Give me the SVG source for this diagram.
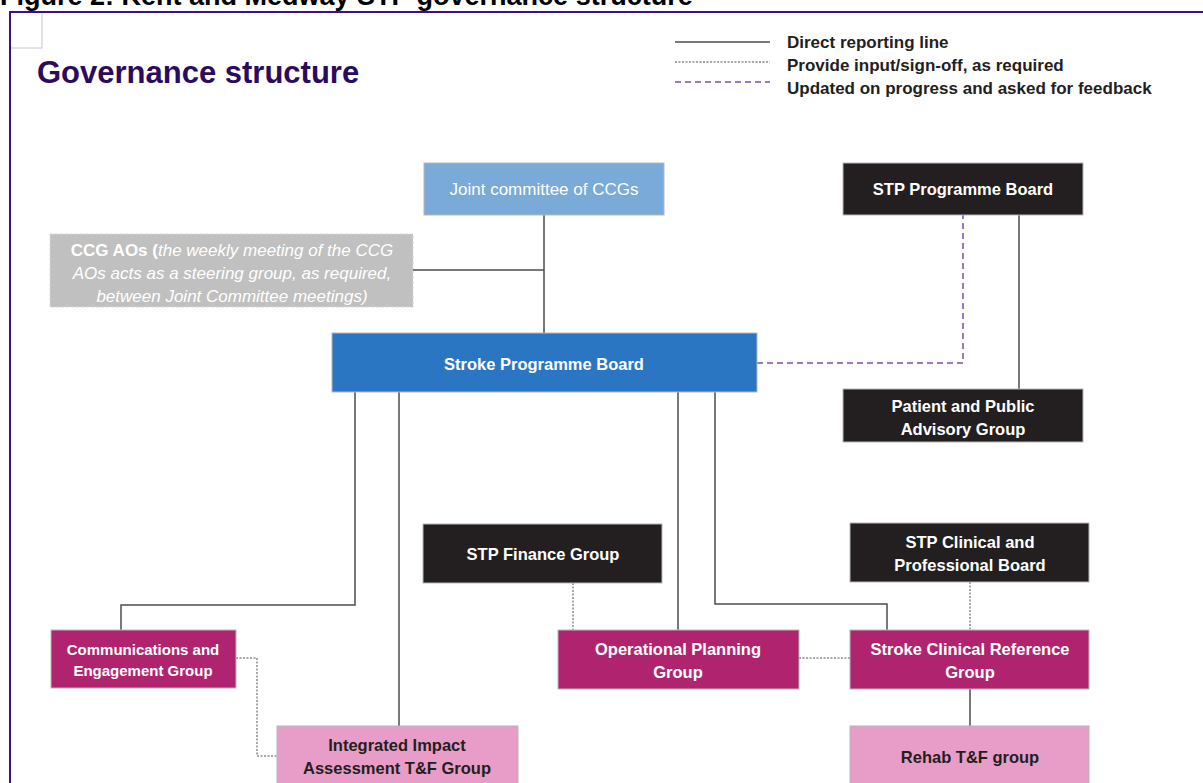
<svg xmlns="http://www.w3.org/2000/svg" width="1203" height="783" viewBox="0 0 1203 783">
<style>
.box{stroke:#b8b8b8;stroke-width:1}
.blk{fill:#231f20}
.mag{fill:#b0246f}
.pnk{fill:#e89dc8}
.t{font-family:"Liberation Sans",Arial,sans-serif;font-size:16.5px;font-weight:bold;fill:#ffffff;text-anchor:middle}
.td{fill:#231f20}
.it{font-weight:normal;font-style:italic;font-size:17px}
.solid{fill:none;stroke:#4d4d4d;stroke-width:1.5}
.dot{fill:none;stroke:#8a8a8a;stroke-width:1.5;stroke-dasharray:2 1.5}
.dash{fill:none;stroke:#7b4fa0;stroke-width:1.5;stroke-dasharray:6 4}
.leg{font-family:"Liberation Sans",Arial,sans-serif;font-size:17px;font-weight:bold;fill:#231f20}
</style>
<rect x="0" y="0" width="1203" height="783" fill="#ffffff"/>
<text x="0" y="5" font-family="Liberation Sans,Arial,sans-serif" font-size="27" font-weight="bold" fill="#000000">Figure 2: Kent and Medway STP governance structure</text>
<g id="frame">
<line x1="10" y1="12" x2="1203" y2="12" stroke="#3d1088" stroke-width="2"/>
<line x1="10" y1="11" x2="10" y2="783" stroke="#3d1088" stroke-width="2"/>
<polyline points="42,13 42,48 11,48" fill="none" stroke="#c8c8c8" stroke-width="1"/>
</g>
<text x="37" y="83" font-family="Liberation Sans,Arial,sans-serif" font-size="31" font-weight="bold" fill="#2a0b5e">Governance structure</text>
<g id="legend">
<line x1="675" y1="42" x2="770" y2="42" class="solid" stroke-width="2"/>
<line x1="675" y1="62" x2="770" y2="62" class="dot" stroke="#a8a8a8"/>
<line x1="675" y1="82" x2="770" y2="82" class="dash"/>
<text x="787" y="48" class="leg">Direct reporting line</text>
<text x="787" y="71" class="leg">Provide input/sign-off, as required</text>
<text x="787" y="94" class="leg">Updated on progress and asked for feedback</text>
</g>
<g id="connectors">
<line x1="544" y1="215" x2="544" y2="333" class="solid"/>
<line x1="413" y1="270" x2="544" y2="270" class="solid"/>
<polyline points="757,363 963,363 963,215" class="dash"/>
<line x1="1019" y1="215" x2="1019" y2="389" class="solid"/>
<polyline points="355,392 355,605 121,605 121,630" class="solid"/>
<line x1="399" y1="392" x2="399" y2="726" class="solid"/>
<line x1="678" y1="392" x2="678" y2="630" class="solid"/>
<polyline points="715,392 715,604 887,604 887,630" class="solid"/>
<line x1="573" y1="583" x2="573" y2="630" class="dot"/>
<line x1="970" y1="582" x2="970" y2="630" class="dot"/>
<line x1="799" y1="658" x2="850" y2="658" class="dot"/>
<polyline points="236,658 257,658 257,756 277,756" class="dot"/>
<line x1="970" y1="689" x2="970" y2="726" class="solid"/>
</g>
<g id="joint">
<rect x="424" y="163" width="240" height="52" fill="#7aaad8" class="box"/>
<text x="544" y="195" class="t" style="font-weight:normal;font-size:17px">Joint committee of CCGs</text>
</g>
<g id="stp-board">
<rect x="843" y="163" width="240" height="52" class="box blk"/>
<text x="963" y="195" class="t">STP Programme Board</text>
</g>
<g id="ccg-aos">
<rect x="50" y="234" width="363" height="73" fill="#c0c0c0" stroke="#d8d8d8" stroke-dasharray="3 2"/>
<text x="232" y="256" class="t it"><tspan style="font-weight:bold;font-style:normal">CCG AOs (</tspan>the weekly meeting of the CCG</text>
<text x="232" y="279" class="t it">AOs acts as a steering group, as required,</text>
<text x="232" y="302" class="t it">between Joint Committee meetings)</text>
</g>
<g id="stroke-board">
<rect x="332" y="333" width="425" height="59" fill="#2b76c2" class="box"/>
<text x="544" y="370" class="t">Stroke Programme Board</text>
</g>
<g id="ppag">
<rect x="843" y="389" width="240" height="53" class="box blk"/>
<text x="963" y="412" class="t">Patient and Public</text>
<text x="963" y="435" class="t">Advisory Group</text>
</g>
<g id="finance">
<rect x="423" y="524" width="239" height="59" class="box blk"/>
<text x="543" y="560" class="t">STP Finance Group</text>
</g>
<g id="clinical-board">
<rect x="850" y="523" width="239" height="59" class="box blk"/>
<text x="970" y="548" class="t">STP Clinical and</text>
<text x="970" y="571" class="t">Professional Board</text>
</g>
<g id="comms">
<rect x="51" y="630" width="185" height="58" class="box mag"/>
<text x="143" y="655" class="t" style="font-size:15px">Communications and</text>
<text x="143" y="676" class="t" style="font-size:15px">Engagement Group</text>
</g>
<g id="opplan">
<rect x="558" y="630" width="241" height="59" class="box mag"/>
<text x="678" y="655" class="t">Operational Planning</text>
<text x="678" y="678" class="t">Group</text>
</g>
<g id="scrg">
<rect x="850" y="630" width="239" height="59" class="box mag"/>
<text x="970" y="655" class="t">Stroke Clinical Reference</text>
<text x="970" y="678" class="t">Group</text>
</g>
<g id="iia">
<rect x="277" y="726" width="241" height="62" class="box pnk"/>
<text x="397" y="751" class="t td">Integrated Impact</text>
<text x="397" y="774" class="t td">Assessment T&amp;F Group</text>
</g>
<g id="rehab">
<rect x="850" y="726" width="239" height="62" class="box pnk"/>
<text x="970" y="763" class="t td">Rehab T&amp;F group</text>
</g>
</svg>
